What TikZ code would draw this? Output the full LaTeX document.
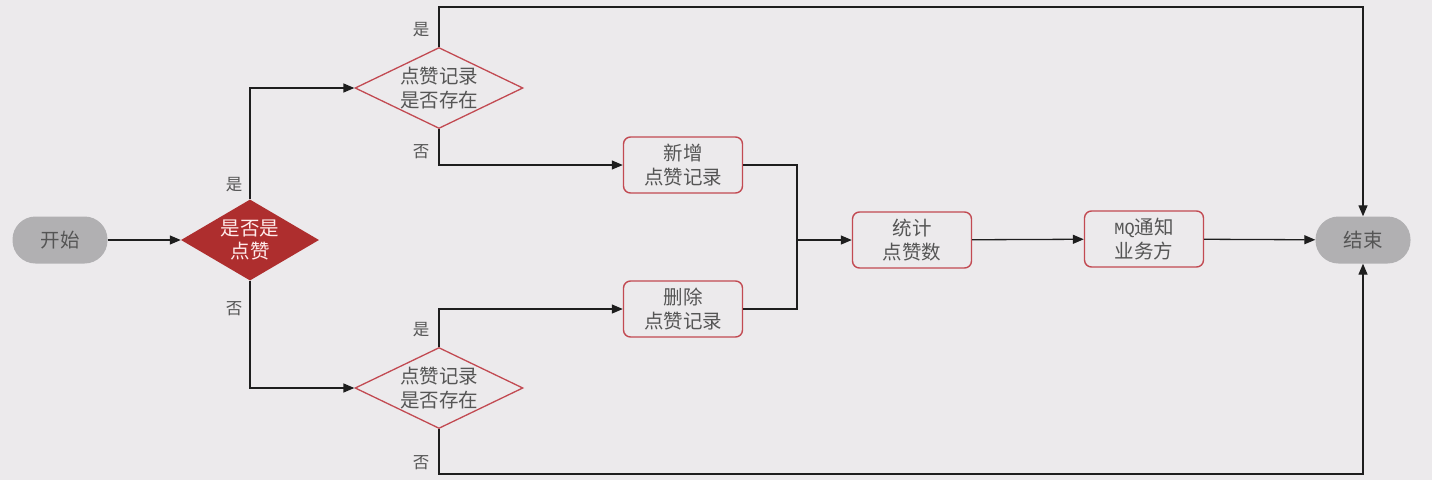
\documentclass[tikz,border=0pt]{standalone}
\usepackage{fontspec}
\usetikzlibrary{shapes.geometric,arrows.meta}
\newfontfamily\cjk{Noto Sans CJK SC}
\newfontfamily\mono{Liberation Mono}
\definecolor{bg}{HTML}{ECEAEC}
\definecolor{pillgray}{HTML}{B1B0B2}
\definecolor{txtgray}{HTML}{555555}
\definecolor{redline}{HTML}{C24A52}
\definecolor{redfill}{HTML}{AE2E2E}
\definecolor{linec}{HTML}{1E1E1E}
\tikzset{
  x=1pt, y=-1pt,
  every node/.style={font=\cjk\fontsize{19.5}{23.5}\selectfont, text=txtgray, align=center},
  line/.style={draw=linec, line width=1.3pt},
  arr/.style={line, -{Triangle[length=11pt,width=9pt]}},
  pill/.style={rectangle, rounded corners=23pt, fill=pillgray, minimum width=95pt, minimum height=47pt, inner sep=0pt},
  stepbox/.style={rectangle, rounded corners=7pt, draw=redline, line width=1.4pt, fill=bg, minimum width=119pt, minimum height=56pt, inner sep=0pt},
  dia/.style={diamond, inner sep=0pt, minimum width=168pt, minimum height=81pt, draw=redline, line width=1.3pt},
  lab/.style={font=\cjk\fontsize{16.5}{20}\selectfont, text=txtgray},
}
\begin{document}
\begin{tikzpicture}
\fill[bg] (0,0) rectangle (1432,480);
\useasboundingbox (0,0) rectangle (1432,480);

\node[pill] (start) at (60,240) {开始};
\node[diamond, inner sep=0pt, minimum width=138pt, minimum height=81pt, fill=redfill] (d0) at (250,240) {};
\node[text=white!92!red] at (d0.center) {是否是\\点赞};

\node[dia] (d1) at (439,88) {};
\node at (d1.center) {点赞记录\\是否存在};
\node[dia] (d2) at (439,388) {};
\node at (d2.center) {点赞记录\\是否存在};

\node[stepbox] (add) at (683,165) {新增\\点赞记录};
\node[stepbox] (del) at (683,309) {删除\\点赞记录};
\node[stepbox] (cnt) at (912,240) {统计\\点赞数};
\node[stepbox] (mq) at (1144,239) {{\mono\fontsize{17}{20}\selectfont MQ}通知\\业务方};
\node[pill] (end) at (1363,240) {结束};

\coordinate (t1) at (439,7);
\coordinate (b1) at (439,474);
\coordinate (j) at (797,240);

\draw[arr] (start) -- (d0);
\draw[arr] (d0.north) |- (d1.west);
\draw[arr] (d0.south) |- (d2.west);
\draw[arr] (d1.north) -- (t1) -| (end.north);
\draw[arr] (d2.south) -- (b1) -| (end.south);
\draw[arr] (d1.south) |- (add.west);
\draw[arr] (d2.north) |- (del.west);
\draw[line] (add.east) -| (j);
\draw[line] (del.east) -| (j);
\draw[arr] (j) -- (cnt.west);
\draw[arr] (cnt) -- (mq);
\draw[arr] (mq) -- (end);

\node[lab] at (234,185) {是};
\node[lab] at (234,309) {否};
\node[lab] at (421,30) {是};
\node[lab] at (421,152) {否};
\node[lab] at (421,330) {是};
\node[lab] at (421,463) {否};
\end{tikzpicture}
\end{document}
